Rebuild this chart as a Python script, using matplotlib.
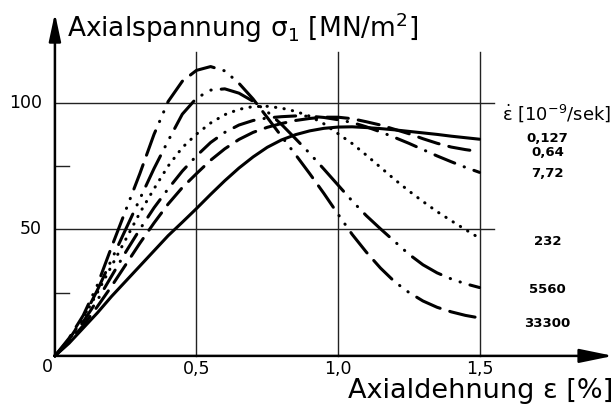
import matplotlib.pyplot as plt

# Dehnung in %
eps = [0.0, 0.05, 0.1, 0.15, 0.2, 0.25, 0.3, 0.35, 0.4, 0.45, 0.5,
       0.55, 0.6, 0.65, 0.7, 0.75, 0.8, 0.85, 0.9, 0.95, 1.0,
       1.05, 1.1, 1.15, 1.2, 1.25, 1.3, 1.35, 1.4, 1.45, 1.5]

# Axialspannung in MN/m2
s_0127 = [0, 5, 11, 17, 23.5, 29.5, 35.5, 41.5, 47.5, 52.8, 58.2,
          63.8, 69.2, 74.2, 78.6, 82.4, 85.3, 87.4, 88.9, 89.9, 90.4,
          90.5, 90.2, 89.8, 89.3, 88.7, 88.1, 87.5, 86.8, 86.2, 85.6]
s_064 = [0, 5.5, 12, 19.5, 27.5, 36, 44.5, 52.5, 60, 66.5, 72,
         77.3, 81.8, 85.5, 88.3, 90.3, 91.8, 93, 93.8, 94.3, 94.3,
         93.7, 92.5, 91.2, 89.5, 87.8, 85.8, 84, 82.5, 81.5, 80.7]
s_772 = [0, 6, 13.5, 22, 31.5, 41, 50, 58.5, 66, 73, 79,
         84.3, 88.3, 91.2, 93, 94, 94.5, 94.8, 94.7, 94.2, 93.3,
         92.2, 90.5, 88.5, 86.3, 84, 81.5, 79, 76.7, 74.5, 72.5]
s_232 = [0, 6.5, 15, 25, 35.5, 46, 56.5, 66, 75, 82.3, 87.6,
         92, 95.3, 97.4, 98.5, 98.6, 97.9, 96.6, 94.7, 91.7, 87.8,
         83.9, 79.3, 74.5, 69.7, 65.2, 61, 57, 53.4, 49.9, 46.5]
s_5560 = [0, 6.5, 15, 26, 38, 50, 62, 74, 85, 95.5, 101.8,
          105, 105.5, 103.8, 100.6, 96.5, 91.5, 85.8, 80, 73.8, 67.5,
          61.2, 55.4, 50.2, 45.2, 40.2, 36, 32.8, 30.4, 28.5, 27]
s_33300 = [0, 7, 16, 28, 43, 57.5, 72, 87.5, 100.5, 108.5, 112.8,
           114.3, 112.6, 107.7, 101.5, 94.2, 86.8, 79.5, 72, 64.2, 56,
           48, 41, 34.7, 29.3, 25.1, 21.7, 19.2, 17.4, 16, 15]

labels = ['0,127', '0,64', '7,72', '232', '5560', '33300']
series = [s_0127, s_064, s_772, s_232, s_5560, s_33300]
label_y = [86.0, 80.2, 72.1, 45.1, 26.3, 12.9]

# Strichmuster (in Vielfachen der Linienbreite)
styles = [
    '-',
    (0, (7, 3.3)),
    (0, (7, 3.3, 0.1, 3.3)),
    (0, (0.1, 2.7)),
    (0, (11, 3.3, 0.1, 3.3, 0.1, 3.3)),
    (0, (8.5, 3.3, 8.5, 3.3, 0.1, 3.3, 0.1, 3.3)),
]

fig = plt.figure(figsize=(6.16, 4.05), dpi=100)
ax = fig.add_axes([0, 0, 1, 1])
ax.set_xlim(-0.194, 1.982)
ax.set_ylim(-19.4, 140.6)
ax.axis('off')

# Gitter
for gx in [0.5, 1.0, 1.5]:
    ax.plot([gx, gx], [0, 120], color='#222222', lw=1.0)
for gy in [50, 100]:
    ax.plot([0, 1.55], [gy, gy], color='#222222', lw=1.0)

# kleine Striche bei 25 und 75
for ty in [25, 75]:
    ax.plot([0, 0.05], [ty, ty], color='#222222', lw=1.0)

# Achsen mit Pfeilen
ax.annotate('', xy=(0, 135.4), xytext=(0, 0),
            arrowprops=dict(arrowstyle='-|>,head_length=1.4,head_width=0.3',
                            lw=1.8, color='k', mutation_scale=12,
                            shrinkA=0, shrinkB=0))
ax.annotate('', xy=(1.972, 0), xytext=(0, 0),
            arrowprops=dict(arrowstyle='-|>,head_length=1.7,head_width=0.35',
                            lw=1.8, color='k', mutation_scale=12,
                            shrinkA=0, shrinkB=0))

# Kurven
for s, ls in zip(series, styles):
    ax.plot(eps, s, color='k', lw=2.2, linestyle=ls,
            solid_capstyle='round', dash_capstyle='round',
            solid_joinstyle='round')

# Beschriftungen
ax.text(0.042, 126.0, r'Axialspannung σ$_1$ [MN/m$^2$]', fontsize=19,
        va='baseline', ha='left')
ax.text(1.972, -16.6, 'Axialdehnung ε [%]', fontsize=19.5,
        va='baseline', ha='right')

for v in [50, 100]:
    ax.text(-0.046, v, str(v), fontsize=12.5, ha='right', va='center')
ax.text(-0.028, -4.3, '0', fontsize=12.5, ha='center', va='center')
for xv, xs in zip([0.5, 1.0, 1.5], ['0,5', '1,0', '1,5']):
    ax.text(xv, -5.1, xs, fontsize=12.5, ha='center', va='center')

ax.text(1.58, 96.1, r'$\dot{\mathrm{ε}}$ [10$^{-9}$/sek]', fontsize=13,
        ha='left', va='center')
for lab, ly in zip(labels, label_y):
    ax.text(1.74, ly, lab, fontsize=9.5, fontweight='bold',
            ha='center', va='center')

fig.savefig('out.png', dpi=100)
